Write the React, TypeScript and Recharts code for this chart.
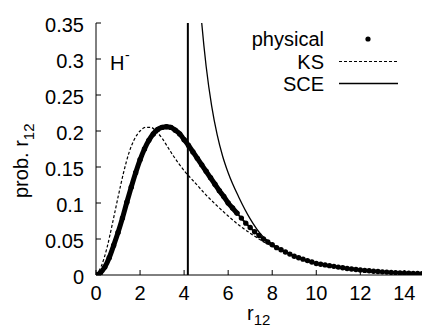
import React from 'react';
import { LineChart, Line, XAxis, YAxis, ReferenceLine } from 'recharts';

// pair density vs r12 for H-
const physicalData = [
  { r: 0, p: 0 }, { r: 0.2, p: 0.003 }, { r: 0.4, p: 0.011 }, { r: 0.6, p: 0.024 },
  { r: 0.8, p: 0.041 }, { r: 1.0, p: 0.059 }, { r: 1.2, p: 0.079 }, { r: 1.4, p: 0.101 },
  { r: 1.6, p: 0.122 }, { r: 1.8, p: 0.142 }, { r: 2.0, p: 0.160 }, { r: 2.2, p: 0.175 },
  { r: 2.4, p: 0.187 }, { r: 2.6, p: 0.196 }, { r: 2.8, p: 0.202 }, { r: 3.0, p: 0.205 },
  { r: 3.2, p: 0.206 }, { r: 3.4, p: 0.205 }, { r: 3.6, p: 0.201 }, { r: 3.8, p: 0.196 },
  { r: 4.0, p: 0.188 }, { r: 4.2, p: 0.180 }, { r: 4.4, p: 0.171 }, { r: 4.6, p: 0.162 },
  { r: 4.8, p: 0.153 }, { r: 5.0, p: 0.144 }, { r: 5.2, p: 0.135 }, { r: 5.4, p: 0.126 },
  { r: 5.6, p: 0.117 }, { r: 5.8, p: 0.109 }, { r: 6.0, p: 0.100 }, { r: 6.2, p: 0.093 },
  { r: 6.4, p: 0.086 }, { r: 6.6, p: 0.079 }, { r: 6.8, p: 0.072 }, { r: 7.0, p: 0.066 },
  { r: 7.2, p: 0.060 }, { r: 7.4, p: 0.055 }, { r: 7.6, p: 0.050 }, { r: 7.8, p: 0.046 },
  { r: 8.0, p: 0.042 }, { r: 8.2, p: 0.038 }, { r: 8.4, p: 0.035 }, { r: 8.6, p: 0.032 },
  { r: 8.8, p: 0.029 }, { r: 9.0, p: 0.026 }, { r: 9.2, p: 0.024 }, { r: 9.4, p: 0.022 },
  { r: 9.6, p: 0.020 }, { r: 9.8, p: 0.018 }, { r: 10.0, p: 0.016 }, { r: 10.2, p: 0.015 },
  { r: 10.4, p: 0.014 }, { r: 10.6, p: 0.013 }, { r: 10.8, p: 0.012 }, { r: 11.0, p: 0.011 },
  { r: 11.2, p: 0.010 }, { r: 11.4, p: 0.009 }, { r: 11.6, p: 0.0083 }, { r: 11.8, p: 0.0076 },
  { r: 12.0, p: 0.007 }, { r: 12.2, p: 0.0064 }, { r: 12.4, p: 0.0058 }, { r: 12.6, p: 0.0053 },
  { r: 12.8, p: 0.0048 }, { r: 13.0, p: 0.0044 }, { r: 13.2, p: 0.004 }, { r: 13.4, p: 0.0036 },
  { r: 13.6, p: 0.0033 }, { r: 13.8, p: 0.003 }, { r: 14.0, p: 0.0027 }, { r: 14.2, p: 0.0024 },
  { r: 14.4, p: 0.0022 }, { r: 14.6, p: 0.002 }, { r: 14.8, p: 0.0018 },
];

// where the physical points sit so close they merge into a thick band
const physicalBandEnd = 6.4;

const ksData = [
  { r: 0, p: 0 }, { r: 0.25, p: 0.013 }, { r: 0.5, p: 0.038 }, { r: 0.75, p: 0.072 },
  { r: 1.0, p: 0.108 }, { r: 1.25, p: 0.142 }, { r: 1.5, p: 0.170 }, { r: 1.75, p: 0.189 },
  { r: 2.0, p: 0.200 }, { r: 2.25, p: 0.205 }, { r: 2.5, p: 0.205 }, { r: 2.75, p: 0.199 },
  { r: 3.0, p: 0.190 }, { r: 3.25, p: 0.178 }, { r: 3.5, p: 0.166 }, { r: 3.75, p: 0.155 },
  { r: 4.0, p: 0.145 }, { r: 4.5, p: 0.128 }, { r: 5.0, p: 0.111 }, { r: 5.5, p: 0.096 },
  { r: 6.0, p: 0.082 }, { r: 6.5, p: 0.069 }, { r: 7.0, p: 0.058 }, { r: 7.5, p: 0.048 },
  { r: 8.0, p: 0.040 }, { r: 8.5, p: 0.033 }, { r: 9.0, p: 0.026 }, { r: 10.0, p: 0.016 },
  { r: 11.0, p: 0.010 }, { r: 12.0, p: 0.006 }, { r: 13.0, p: 0.0037 }, { r: 14.0, p: 0.0023 },
  { r: 14.8, p: 0.0016 },
];

const sceData = [
  { r: 4.62, p: 0.42 }, { r: 4.8, p: 0.35 }, { r: 5.0, p: 0.29 }, { r: 5.25, p: 0.235 },
  { r: 5.5, p: 0.195 }, { r: 5.75, p: 0.165 }, { r: 6.0, p: 0.142 }, { r: 6.5, p: 0.107 },
  { r: 7.0, p: 0.078 }, { r: 7.5, p: 0.056 }, { r: 8.0, p: 0.043 }, { r: 8.5, p: 0.034 },
  { r: 9.0, p: 0.026 }, { r: 10.0, p: 0.016 }, { r: 11.0, p: 0.0098 }, { r: 12.0, p: 0.006 },
  { r: 13.0, p: 0.0038 }, { r: 14.0, p: 0.0024 }, { r: 14.8, p: 0.0016 },
];

// SCE delta-like jump position
const sceJump = 4.17;

const xTicks = [0, 2, 4, 6, 8, 10, 12, 14];
const yTicks = [0, 0.05, 0.1, 0.15, 0.2, 0.25, 0.3, 0.35];

const font = '"Liberation Sans", Arial, Helvetica, sans-serif';

const YTick = ({ x, y, payload }: any) => (
  <text x={x} y={y} dy={9} textAnchor="end" fontSize={20} fontFamily={font} fill="#000">
    {payload.value}
  </text>
);

const XTick = ({ x, y, payload }: any) => (
  <text x={x} y={y} dy={18} textAnchor="middle" fontSize={20} fontFamily={font} fill="#000">
    {payload.value}
  </text>
);

const NoTick = () => <text />;

const App = () => {
  const band = physicalData.filter((d) => d.r <= physicalBandEnd);
  return (
    <div style={{ position: 'absolute', left: 0, top: 0, width: 422, height: 330, background: '#fff' }}>
      <LineChart width={422} height={330} margin={{ top: 23, right: 0, bottom: 0, left: 0 }}>
        <XAxis
          dataKey="r"
          type="number"
          domain={[0, 14.8]}
          ticks={xTicks}
          allowDataOverflow
          height={55}
          tickSize={-5}
          tickMargin={12}
          stroke="#000"
          tick={<XTick />}
        />
        <XAxis
          xAxisId="top"
          orientation="top"
          type="number"
          domain={[0, 14.8]}
          ticks={xTicks}
          height={0}
          tickSize={-5}
          stroke="#000"
          tick={<NoTick />}
        />
        <YAxis
          type="number"
          domain={[0, 0.35]}
          ticks={yTicks}
          allowDataOverflow
          width={96}
          tickSize={-5}
          tickMargin={17}
          stroke="#000"
          tick={<YTick />}
        />
        <YAxis
          yAxisId="right"
          orientation="right"
          type="number"
          domain={[0, 0.35]}
          ticks={yTicks}
          width={0}
          tickSize={-5}
          axisLine={false}
          stroke="#000"
          tick={<NoTick />}
        />
        <Line
          data={ksData}
          dataKey="p"
          type="monotone"
          stroke="#000"
          strokeWidth={1.2}
          strokeDasharray="3 2"
          dot={false}
          isAnimationActive={false}
        />
        <Line
          data={sceData}
          dataKey="p"
          type="monotone"
          stroke="#000"
          strokeWidth={1.3}
          dot={false}
          isAnimationActive={false}
        />
        <ReferenceLine x={sceJump} stroke="#000" strokeWidth={2} />
        <Line
          data={band}
          dataKey="p"
          type="monotone"
          stroke="#000"
          strokeWidth={5}
          strokeLinecap="round"
          dot={false}
          isAnimationActive={false}
        />
        <Line
          data={physicalData}
          dataKey="p"
          type="monotone"
          stroke="#000"
          strokeWidth={2}
          dot={{ r: 2.7, fill: '#000', stroke: 'none' }}
          isAnimationActive={false}
        />
      </LineChart>
      <svg
        width={422}
        height={330}
        style={{ position: 'absolute', left: 0, top: 0, pointerEvents: 'none' }}
        fontFamily={font}
        fill="#000"
      >
        <text x={110} y={70} fontSize={20}>H</text>
        <text x={125} y={60} fontSize={14}>-</text>

        <text x={324} y={46} fontSize={20} textAnchor="end">physical</text>
        <circle cx={368} cy={39} r={2.6} />
        <text x={324} y={68.5} fontSize={20} textAnchor="end">KS</text>
        <line x1={339} x2={398} y1={61.5} y2={61.5} stroke="#000" strokeWidth={1.2} strokeDasharray="3 2" />
        <text x={324} y={91} fontSize={20} textAnchor="end">SCE</text>
        <line x1={339} x2={398} y1={83.5} y2={83.5} stroke="#000" strokeWidth={1.3} />

        <text x={247} y={320} fontSize={20}>
          r<tspan fontSize={15} dy={5}>12</tspan>
        </text>
        <text transform="translate(28,198) rotate(-90)" fontSize={20}>
          prob. r<tspan fontSize={15} dy={6}>12</tspan>
        </text>
      </svg>
    </div>
  );
};

export default App;
